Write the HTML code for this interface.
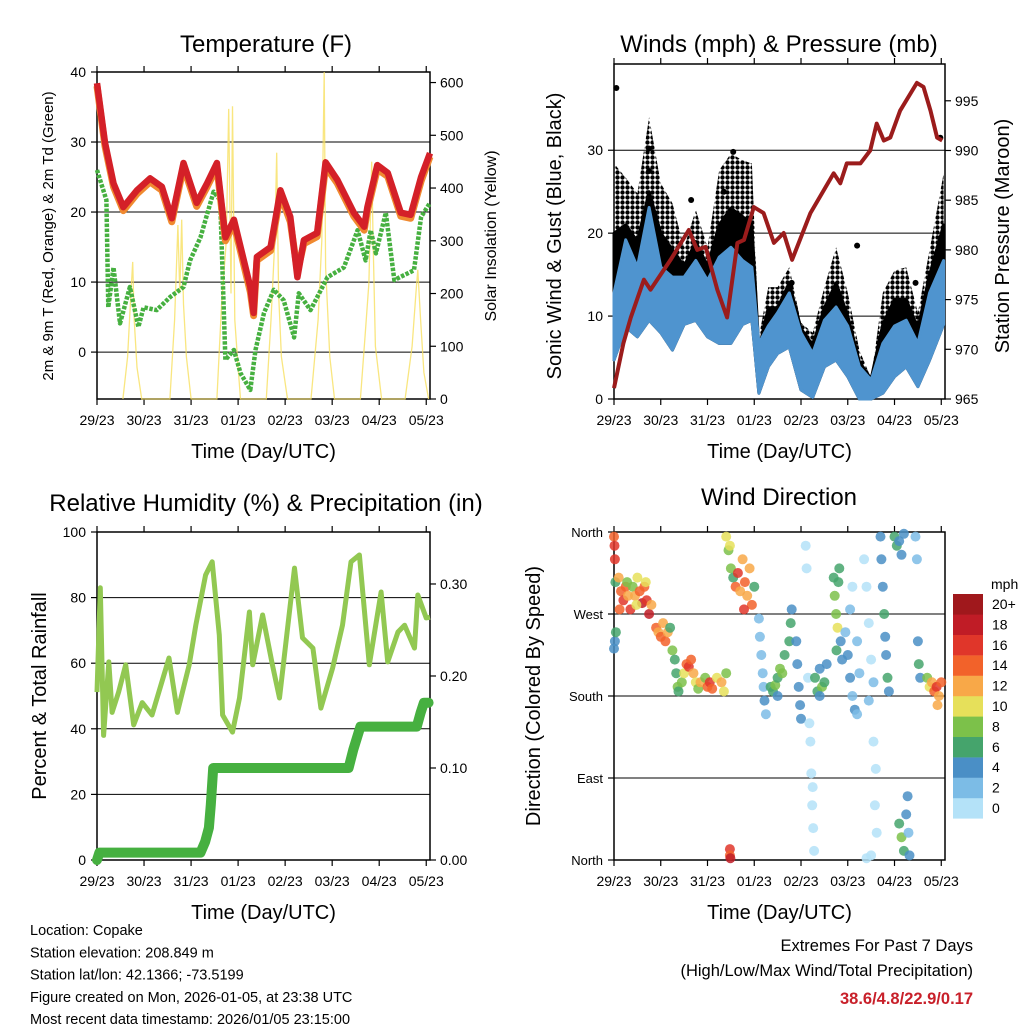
<!DOCTYPE html>
<html><head><meta charset="utf-8">
<style>
html,body{margin:0;padding:0;background:#fff;}
svg{display:block;font-family:"Liberation Sans",Arial,sans-serif;}
</style></head>
<body>
<svg id="fig" width="1024" height="1024" viewBox="0 0 1024 1024" xmlns="http://www.w3.org/2000/svg">
<defs>
<pattern id="gustdots" width="5" height="5" patternUnits="userSpaceOnUse">
<circle cx="2.5" cy="2.5" r="2.2" fill="#000"/>
</pattern>
</defs>
</svg>
<script>
// ---------- DATA ----------
const dayLabels = ["29/23","30/23","31/23","01/23","02/23","03/23","04/23","05/23"];
// Temperature (F)
const tempTimes = [0,0.17,0.35,0.56,0.85,1.13,1.38,1.59,1.84,2.12,2.34,2.55,2.73,2.91,3.26,3.33,3.40,3.69,3.90,4.11,4.26,4.40,4.68,4.86,5.11,5.46,5.68,5.75,5.96,6.18,6.46,6.67,6.89,7.08];
const tempRed = [38.4,29.9,24.1,20.7,23.1,24.8,23.6,19.1,27,21.3,24.1,27,16.4,18.9,9.3,5.6,13.6,15,23.1,19.3,10.7,16,17,27.1,24.6,19.9,17.9,20.7,26.7,25.6,19.9,19.6,25,28.4];
const tempOrange = [38,29.4,23.6,20.2,22.6,24.3,23.1,18.6,26.4,20.8,23.6,26.4,15.9,18.3,8.6,5.2,13.1,14.5,22.5,18.6,11.5,15.5,16.5,26.5,24.1,19.4,17.4,20.2,26.1,25.1,19.4,19.1,24.4,27.9];
const dewTimes = [0,0.2,0.24,0.35,0.49,0.7,0.88,0.99,1.27,1.56,1.84,1.98,2.2,2.48,2.62,2.73,2.91,3.05,3.26,3.37,3.55,3.76,3.97,4.19,4.29,4.54,4.9,5.25,5.54,5.71,5.82,5.93,6.14,6.32,6.74,6.89,7.08];
const dewValues = [26,21.7,6.4,12.1,4.1,9.3,3.6,6.4,6,7.9,9.3,13.1,16.4,22.9,21.7,-1.1,0.3,-3,-5.4,0.3,5.6,8.9,7.4,2.1,8.4,6,10.7,12.1,17.4,13.1,17.4,14.1,19.9,10.3,11.7,19.3,21.3];
const solarTimes = [0.55,0.65,0.72,0.76,0.79,0.85,0.95,1.55,1.65,1.72,1.76,1.8,1.84,1.9,2.0,2.55,2.65,2.75,2.8,2.85,2.88,2.93,3.0,3.05,3.6,3.7,3.78,3.82,3.86,3.92,4.05,4.55,4.7,4.78,4.83,4.86,4.95,5.05,5.6,5.7,5.78,5.84,5.87,5.92,6.05,6.55,6.7,6.78,6.82,6.88,6.95,7.05];
const solarValues = [0,80,200,260,150,60,0,0,150,330,200,340,180,80,0,0,180,300,550,200,555,150,60,0,0,150,300,467,200,80,0,0,150,300,620,250,80,0,0,120,220,450,300,100,0,0,100,200,245,150,50,0];
// Winds & pressure
const presTimes = [0,0.2,0.36,0.64,0.78,1.21,1.6,1.78,1.96,2.21,2.42,2.64,2.78,2.99,3.2,3.42,3.63,3.81,4.2,4.7,4.84,4.98,5.27,5.48,5.62,5.77,5.91,6.12,6.48,6.62,6.77,6.91,7.02];
const presValues = [966.1,970.6,973.2,977,976,979,982,980,980.3,976,973.2,980.7,981,984.3,983.7,980.7,981.7,979,983.7,987.7,986.7,988.7,988.7,990,992.7,991,991.3,994,996.8,996.4,994,991.3,991];
const windTimes = [0,0.25,0.5,0.75,1.0,1.25,1.5,1.75,2.0,2.25,2.5,2.75,2.95,3.1,3.3,3.5,3.75,4.0,4.25,4.5,4.75,5.0,5.25,5.5,5.75,6.0,6.25,6.5,6.75,7.05];
const windHigh = [12.8,19.2,15.9,23.1,15.9,14.7,14.7,16.7,14.3,17.1,18.3,16.7,15.9,6.7,8.8,10.4,12.8,8,5.5,9.5,11.1,8.8,3.9,2.3,6.7,8.8,9.5,6.7,12.8,16.7];
const windLow = [4.7,8.7,7.5,9.5,8,5.9,9,9.5,7.5,6.7,6.7,9,9.5,0.7,3.9,5.5,6.3,1.1,0.2,3.9,4.7,2.7,0,0,0.7,2.7,3.9,1.5,4.7,9];
const gustMid = [20,21,19,25,20,18,16,19,16,21,23,22,21,6,11,11,14,8.5,6.5,11,14,10,4.5,2.4,9,12,12,8.5,15,21];
const gustHigh = [28.4,26.7,24.8,34,26,23.6,18.3,22.8,18.3,27.6,29.6,28.8,28.4,7.5,13.5,13.5,15.9,9.2,8,13.5,18.3,12.8,5.9,2.5,12.8,15.5,15.9,10.4,18,27.2];
const gustOutTimes = [0.05,0.75,0.75,1.65,2.35,2.55,3.8,5.2,6.45,6.98];
const gustOutValues = [37.5,30.2,27.5,24,25,29.8,14,18.5,14,31.5];
// RH & precipitation
const rhTimes = [0,0.07,0.14,0.25,0.32,0.46,0.61,0.78,0.96,1.17,1.53,1.71,1.96,2.1,2.31,2.45,2.6,2.67,2.88,3.03,3.24,3.31,3.52,3.73,3.88,4.2,4.37,4.59,4.76,5.01,5.22,5.4,5.58,5.79,6.04,6.18,6.4,6.54,6.75,6.82,7.0,7.08];
const rhValues = [51.2,83,38,60.4,45,51.2,59.5,41.2,48,44.2,61.6,45,59.5,71.6,86.9,90.9,68.6,44.2,39,49.4,75.6,59.5,74.7,59.5,49.4,89,67.7,64.6,46.3,58.5,71.6,90.9,93,59.5,81.7,60.4,69.5,71.6,64.6,80.8,73.8,74];
const rainTimes = [0,0.05,2.2,2.3,2.38,2.42,2.47,5.35,5.45,5.6,6.8,6.88,6.95,7.05];
const rainValues = [0,0.008,0.008,0.02,0.035,0.06,0.1,0.1,0.12,0.145,0.145,0.16,0.171,0.171];
// Wind direction (days, degrees, mph)
const wdTime = [0,0.01,0.02,0.03,0.02,0,0.04,0.1,0.15,0.2,0.25,0.3,0.35,0.4,0.45,0.5,0.55,0.6,0.65,0.7,0.75,0.8,0.12,0.28,0.48,0.68,0.9,0.95,1,1.05,1.1,1.15,1.2,1.25,1.3,1.33,1.36,1.38,1.45,1.5,1.55,1.6,1.65,1.7,1.75,1.8,1.85,1.95,2,2.05,2.1,2.2,2.3,2.35,2.4,2.4,2.45,2.5,2.55,2.6,2.65,2.7,2.75,2.8,2.85,2.9,2.95,3,2.48,2.78,2.48,2.48,2.49,3.1,3.12,3.15,3.18,3.2,3.22,3.25,3.35,3.4,3.45,3.5,3.55,3.6,3.5,3.65,3.75,3.78,3.8,3.9,3.92,3.95,3.98,4,4.1,4.12,4.15,4.18,4.2,4.22,4.24,4.26,4.28,4.25,4.3,4.35,4.4,4.45,4.5,4.55,4.4,4.7,4.72,4.75,4.78,4.8,4.85,4.88,4.82,4.76,4.95,5,5.05,5.1,5.15,5.05,5.1,5.2,5.25,5.2,5.35,5.4,5.45,5.5,5.55,5.45,5.55,5.6,5.58,5.62,5.5,5.4,5.7,5.72,5.75,5.78,5.8,5.82,5.85,5.88,6,6.05,6.1,6.15,6.2,6.1,6.15,6.2,6.25,6.28,6.3,6.32,6.45,6.48,6.5,6.52,6.55,6.7,6.75,6.8,6.85,6.9,6.95,7,6.92];
const wdDir = [355,345,330,305,240,232,250,310,295,285,300,290,275,300,290,310,295,282,300,285,270,280,275,305,280,305,255,250,245,260,240,250,255,230,220,205,190,185,195,205,215,212,220,205,195,188,195,200,190,195,188,200,195,185,205,355,340,320,310,300,315,295,330,305,290,320,280,300,345,275,12,5,2,265,245,225,205,190,175,160,190,185,192,200,210,205,180,225,240,260,275,240,215,190,170,155,345,320,200,150,130,95,60,35,10,80,200,185,210,190,195,215,180,310,290,270,255,305,240,220,320,230,250,225,200,180,165,275,300,240,205,160,330,300,260,220,195,175,130,100,60,30,5,2,355,330,300,270,245,225,200,185,355,345,350,335,358,40,25,10,50,70,30,5,355,330,240,215,200,200,190,195,185,190,180,195,170];
const wdSpeed = [14,16,17,7,5,4,6,13,15,16,14,12,17,9,13,10,14,18,15,16,18,13,15,8,11,11,14,13,15,12,14,13,7,9,7,6,8,6,9,10,15,16,14,12,10,8,12,9,14,16,15,10,13,10,8,11,8,9,7,14,16,12,12,15,12,13,14,7,10,16,17,14,18,3,2,3,2,3,4,2,7,6,8,7,9,8,5,7,6,6,4,4,4,4,4,4,1,1,1,1,1,1,1,1,1,1,6,7,5,8,6,4,4,7,8,9,10,6,4,4,6,7,3,4,4,3,4,2,1,2,3,2,1,1,1,1,2,2,1,1,1,1,1,1,4,4,4,6,4,4,6,4,6,7,4,4,5,7,8,6,4,4,3,4,2,2,4,6,5,8,10,12,14,16,12,15,13];
const speedColors = ["#b4e2f8","#7cbce6","#4a8fc6","#45a46c","#7cc14a","#e6e05a","#f8a848","#f2622a","#e0362a","#c01c26","#a0181c"];
const speedLabels = ["0","2","4","6","8","10","12","14","16","18","20+"];

// ---------- HELPERS ----------
const NS="http://www.w3.org/2000/svg";
const fig=document.getElementById('fig');
function mk(tag,attrs,parent){const e=document.createElementNS(NS,tag);for(const k in attrs)e.setAttribute(k,attrs[k]);(parent||fig).appendChild(e);return e;}
function txt(s,x,y,size,anchor,parent,extra){const e=mk('text',Object.assign({x:x,y:y,'font-size':size,'text-anchor':anchor||'middle',fill:'#000'},extra||{}),parent);e.textContent=s;return e;}
const XMAX=7.08;
function xs(p,t){return p.x0+(t/XMAX)*(p.x1-p.x0);}
function ys(p,v,lo,hi){return p.y1-(v-lo)/(hi-lo)*(p.y1-p.y0);}
function path(ts,vs,fx,fy){return ts.map((t,i)=>(i?'L':'M')+fx(t).toFixed(1)+','+fy(vs[i]).toFixed(1)).join('');}

function frame(p,name){
  const g=mk('g',{});
  
  
  mk('rect',{x:p.x0,y:p.y0,width:p.x1-p.x0,height:p.y1-p.y0,fill:'none',stroke:'#000','stroke-width':1.5},g);
  dayLabels.forEach((d,i)=>{const x=xs(p,i);
    mk('line',{x1:x,x2:x,y1:p.y1,y2:p.y1+6,stroke:'#000','stroke-width':1.2},g);
    mk('line',{x1:x,x2:x,y1:p.y0,y2:p.y0-6,stroke:'#000','stroke-width':1.2},g);
    const t=txt(d,x,p.y1+26,14,'middle',g);
    
    
  });
  const xt=txt('Time (Day/UTC)',(p.x0+p.x1)/2,p.y1+59,20,'middle',g);
  
  
  return g;
}
function grid(p,y,g){mk('line',{x1:p.x0,x2:p.x1,y1:y,y2:y,stroke:'#000','stroke-width':1},g);}
function leftTick(p,y,label,g,size){mk('line',{x1:p.x0-6,x2:p.x0,y1:y,y2:y,stroke:'#000','stroke-width':1.2},g);const t=txt(label,p.x0-11,y+5,size||14,'end',g);}
function rightTick(p,y,label,g){mk('line',{x1:p.x1,x2:p.x1+6,y1:y,y2:y,stroke:'#000','stroke-width':1.2},g);const t=txt(label,p.x1+10,y+5,14,'start',g);}
function vtitle(s,x,y,size,name){const t=txt(s,x,y,size,'middle',fig,{transform:'rotate(-90 '+x+' '+y+')'});}
function title(s,x,y,name){const t=txt(s,x,y,24,'middle');}

// ---------- PANEL 1: TEMPERATURE ----------
const P1={x0:97,x1:430,y0:72,y1:399};
const T_LO=-6.7,T_HI=40,S_LO=0,S_HI=620;
title('Temperature (F)',266,52,'temperature-title');
const g1=frame(P1,'temperature');
[30,20,10,0].forEach(v=>grid(P1,ys(P1,v,T_LO,T_HI),g1));
[40,30,20,10,0].forEach(v=>leftTick(P1,ys(P1,v,T_LO,T_HI),String(v),g1));
[0,100,200,300,400,500,600].forEach(v=>rightTick(P1,ys(P1,v,S_LO,S_HI),String(v),g1));
const fs=t=>xs(P1,t);
let e=mk('path',{d:path(solarTimes,solarValues,fs,v=>ys(P1,v,S_LO,S_HI)),fill:'none',stroke:'#f8e060','stroke-width':1.3,opacity:0.8});


e=mk('path',{d:path(dewTimes,dewValues,fs,v=>ys(P1,v,T_LO,T_HI)),fill:'none',stroke:'#46b040','stroke-width':4.5,'stroke-dasharray':'3.5 1.5','stroke-linejoin':'round'});


e=mk('path',{d:path(tempTimes,tempOrange,fs,v=>ys(P1,v,T_LO,T_HI)),fill:'none',stroke:'#f08a30','stroke-width':7,'stroke-linejoin':'round'});


e=mk('path',{d:path(tempTimes,tempRed,fs,v=>ys(P1,v,T_LO,T_HI)),fill:'none',stroke:'#d42028','stroke-width':6.5,'stroke-linejoin':'round'});


vtitle('2m & 9m T (Red, Orange) & 2m Td (Green)',53,236,15,'temperature-y-axis-title');
vtitle('Solar Insolation (Yellow)',496,236,16,'solar-y-axis-title');

// ---------- PANEL 2: WINDS ----------
const P2={x0:614,x1:945,y0:64,y1:399};
const W_LO=0,W_HI=40.4,PR_LO=965,PR_HI=998.7;
title('Winds (mph) & Pressure (mb)',779,52,'winds-title');
const g2=frame(P2,'winds');
[10,20,30].forEach(v=>grid(P2,ys(P2,v,W_LO,W_HI),g2));
[0,10,20,30].forEach(v=>leftTick(P2,ys(P2,v,W_LO,W_HI),String(v),g2));
[965,970,975,980,985,990,995].forEach(v=>rightTick(P2,ys(P2,v,PR_LO,PR_HI),String(v),g2));
const fw=t=>xs(P2,t), fwy=v=>ys(P2,v,W_LO,W_HI);
function band(ts,hi,lo){let d=path(ts,hi,fw,fwy);for(let i=ts.length-1;i>=0;i--)d+='L'+fw(ts[i]).toFixed(1)+','+fwy(lo[i]).toFixed(1);return d+'Z';}
e=mk('path',{d:band(windTimes,gustHigh,windLow),fill:'url(#gustdots)',stroke:'none'});


e=mk('path',{d:band(windTimes,gustMid,windLow),fill:'#000',stroke:'#000','stroke-width':3,'stroke-linejoin':'round'});


gustOutTimes.forEach((t,i)=>{const c=mk('circle',{cx:fw(t),cy:fwy(gustOutValues[i]),r:3,fill:'#000'});
  
  });
e=mk('path',{d:band(windTimes,windHigh,windLow),fill:'#4f94cf',stroke:'#4f94cf','stroke-width':3,'stroke-linejoin':'round'});


e=mk('path',{d:path(presTimes,presValues,fw,v=>ys(P2,v,PR_LO,PR_HI)),fill:'none',stroke:'#9b1c1c','stroke-width':4,'stroke-linejoin':'round'});


vtitle('Sonic Wind & Gust (Blue, Black)',561,236,20,'wind-y-axis-title');
vtitle('Station Pressure (Maroon)',1009,236,20,'pressure-y-axis-title');

// ---------- PANEL 3: RH ----------
const P3={x0:97,x1:430,y0:532,y1:860};
const RH_LO=0,RH_HI=100,RN_LO=0,RN_HI=0.3565;
title('Relative Humidity (%) & Precipitation (in)',266,511,'rh-title');
const g3=frame(P3,'rh');
[20,40,60,80].forEach(v=>grid(P3,ys(P3,v,RH_LO,RH_HI),g3));
[0,20,40,60,80,100].forEach(v=>leftTick(P3,ys(P3,v,RH_LO,RH_HI),String(v),g3));
[0,0.1,0.2,0.3].forEach(v=>rightTick(P3,ys(P3,v,RN_LO,RN_HI),v.toFixed(2),g3));
const fr=t=>xs(P3,t);
e=mk('path',{d:path(rhTimes,rhValues,fr,v=>ys(P3,v,RH_LO,RH_HI)),fill:'none',stroke:'#92c852','stroke-width':5,'stroke-linejoin':'round'});


e=mk('path',{d:path(rainTimes,rainValues,fr,v=>ys(P3,v,RN_LO,RN_HI)),fill:'none',stroke:'#46b040','stroke-width':10,'stroke-linejoin':'round','stroke-linecap':'round'});


vtitle('Percent & Total Rainfall',46,696,20,'rh-y-axis-title');

// ---------- PANEL 4: WIND DIRECTION ----------
const P4={x0:614,x1:945,y0:532,y1:860};
title('Wind Direction',779,505,'wind-direction-title');
const g4=frame(P4,'wind-direction');
[90,180,270].forEach(v=>grid(P4,ys(P4,v,0,360),g4));
[[0,'North'],[90,'East'],[180,'South'],[270,'West'],[360,'North']].forEach(a=>leftTick(P4,ys(P4,a[0],0,360),a[1],g4,13));
wdTime.forEach((t,i)=>{const s=wdSpeed[i];const k=Math.min(10,Math.floor(s/2));
  const c=mk('circle',{cx:xs(P4,t).toFixed(1),cy:ys(P4,wdDir[i],0,360).toFixed(1),r:5,fill:speedColors[k],opacity:0.85});
  
  });
vtitle('Direction (Colored By Speed)',540,696,20,'wind-direction-y-axis-title');
const lg=mk('g',{});


txt('mph',991,589,14,'start',lg);
speedColors.forEach((c,i)=>{const y=594+(10-i)*20.4;
  const r=mk('rect',{x:953,y:y,width:30,height:20.6,fill:c},lg);
  
  
  const t=txt(speedLabels[i],992,y+15,14,'start',lg);
  
  });

// ---------- FOOTER ----------
const info=["Location: Copake","Station elevation: 208.849 m","Station lat/lon: 42.1366; -73.5199","Figure created on Mon, 2026-01-05, at 23:38 UTC","Most recent data timestamp: 2026/01/05 23:15:00"];
info.forEach((s,i)=>{const t=txt(s,30,935+i*22.3,14.5,'start');
  
  });
let t=txt('Extremes For Past 7 Days',973,951,16.5,'end');


t=txt('(High/Low/Max Wind/Total Precipitation)',973,976,16.5,'end');


t=txt('38.6/4.8/22.9/0.17',973,1004,16.5,'end',fig,{fill:'#c8202a','font-weight':'bold'});


</script>
</body></html>
